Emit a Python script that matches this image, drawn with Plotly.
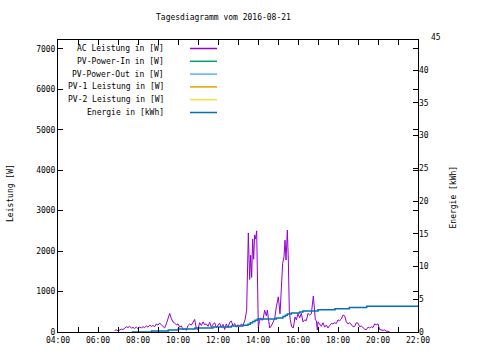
import plotly.graph_objects as go

DAY = "2016-08-21"

# AC Leistung [W]
ac_times = ["06:50","06:55","07:00","07:05","07:10","07:15","07:20","07:25","07:30","07:35","07:40","07:45",
            "07:50","07:55","08:00","08:05","08:10","08:15","08:20","08:25","08:30","08:35","08:40","08:45",
            "08:50","08:55","09:00","09:05","09:10","09:15","09:20","09:25","09:30","09:35","09:40","09:45",
            "09:50","09:55","10:00","10:05","10:10","10:15","10:20","10:25","10:30","10:35","10:40","10:45",
            "10:50","10:55","11:00","11:05","11:10","11:15","11:20","11:25","11:30","11:35","11:40","11:45",
            "11:50","11:55","12:00","12:05","12:10","12:15","12:20","12:25","12:30","12:35","12:40","12:45",
            "12:50","12:55","13:00","13:05","13:10","13:15","13:21","13:26","13:31","13:33","13:35","13:38",
            "13:41","13:44","13:47","13:50","13:53","13:56","13:58","14:01","14:04","14:07","14:10","14:15",
            "14:20","14:25","14:28","14:32","14:35","14:40","14:45","14:50","14:55","15:01","15:06","15:11",
            "15:14","15:18","15:21","15:24","15:28","15:31","15:34","15:37","15:41","15:46","15:51","15:55",
            "16:00","16:05","16:10","16:15","16:20","16:25","16:30","16:35","16:40","16:46","16:49","16:52",
            "16:55","16:58","17:00","17:05","17:10","17:15","17:20","17:25","17:30","17:35","17:40","17:45",
            "17:50","17:55","18:00","18:05","18:10","18:15","18:20","18:25","18:30","18:35","18:40","18:45",
            "18:50","18:55","19:00","19:05","19:10","19:15","19:20","19:25","19:30","19:35","19:40","19:45",
            "19:50","19:55","20:00","20:05","20:10","20:15","20:20","20:25","20:30","20:35"]
ac_power = [40,50,30,60,70,60,100,130,110,140,100,110,
            90,120,80,120,100,130,110,150,120,170,140,160,
            130,200,170,220,180,150,100,200,320,460,330,250,
            220,180,200,120,150,60,80,40,160,200,170,250,
            310,80,60,230,160,250,180,200,140,240,120,190,
            230,110,160,220,120,190,60,200,110,240,270,150,
            210,120,180,130,200,160,300,540,2450,1950,1300,1900,
            1350,2300,1800,2400,2300,2500,1500,100,250,350,300,300,
            540,400,540,200,100,150,250,330,620,870,450,1530,
            1700,1860,2270,1780,2520,1780,500,300,130,100,370,300,
            450,350,460,250,300,280,460,420,450,890,500,300,
            280,50,250,200,140,230,120,170,100,160,210,200,
            230,210,300,280,320,420,400,250,200,230,180,130,
            140,230,220,130,150,100,70,60,120,100,130,110,
            200,180,200,60,50,40,50,20,20,0]

# Energie [kWh] (step curve, right axis)
en_times = ["07:41","08:41","09:31","10:01","10:51","11:45","12:40","13:15","13:30","13:37","13:44","13:51",
            "13:58","14:55","15:15","15:22","15:28","15:40","16:05","16:15","17:00","17:51","18:34","19:26","22:00"]
en_kwh = [0.0,0.15,0.3,0.45,0.6,0.75,0.9,1.05,1.2,1.4,1.6,1.8,
          2.0,2.15,2.35,2.55,2.75,2.9,3.05,3.2,3.4,3.55,3.75,3.95,3.95]

# series without visible data
pv_in_times, pv_in = [], []
pv_out_times, pv_out = [], []
pv1_times, pv1 = [], []
pv2_times, pv2 = [], []

series_names = ["AC Leistung in [W]", "PV-Power-In in [W]", "PV-Power-Out in [W]",
                "PV-1 Leistung in [W]", "PV-2 Leistung in [W]", "Energie in [kWh]"]
series_colors = ["#9400d3", "#009e73", "#56b4e9", "#e69f00", "#f0e442", "#0072b2"]

left_ticks = [0, 1000, 2000, 3000, 4000, 5000, 6000, 7000]
right_ticks = [0, 5, 10, 15, 20, 25, 30, 35, 40]

def ts(lst):
    return [f"{DAY} {t}:00" for t in lst]

FONT = "DejaVu Sans Mono"
fig = go.Figure()
fig.add_trace(go.Scatter(x=ts(ac_times), y=ac_power, mode="lines",
                         line=dict(color=series_colors[0], width=1), showlegend=False))
for tl, vl, c in [(pv_in_times, pv_in, series_colors[1]), (pv_out_times, pv_out, series_colors[2]),
                  (pv1_times, pv1, series_colors[3]), (pv2_times, pv2, series_colors[4])]:
    fig.add_trace(go.Scatter(x=ts(tl), y=vl, mode="lines", line=dict(color=c, width=1), showlegend=False))
fig.add_trace(go.Scatter(x=ts(en_times), y=en_kwh, mode="lines", yaxis="y2",
                         line=dict(color=series_colors[5], width=1.5, shape="hv"), showlegend=False))

L, R, T, B = 58, 418, 40, 332
W, H = R - L, B - T
def px(x): return (x - L) / W
def py(y): return (B - y) / H

ann = []
shapes = []
for i, (n, c) in enumerate(zip(series_names, series_colors)):
    yy = 48.5 + 12.8 * i
    ann.append(dict(x=px(166), y=py(yy), xref="paper", yref="paper", text=n, showarrow=False,
                    xanchor="right", yanchor="middle", font=dict(family=FONT, size=8, color="black")))
    shapes.append(dict(type="line", xref="paper", yref="paper", x0=px(190), x1=px(217),
                       y0=py(yy), y1=py(yy), line=dict(color=c, width=1.5)))
ann.append(dict(x=px(223.5), y=py(18), xref="paper", yref="paper", text="Tagesdiagramm vom 2016-08-21",
                showarrow=False, xanchor="center", yanchor="middle", font=dict(family=FONT, size=8, color="black")))
ann.append(dict(x=px(10), y=py(193), xref="paper", yref="paper", text="Leistung [W]", textangle=-90,
                showarrow=False, xanchor="center", yanchor="middle", font=dict(family=FONT, size=8, color="black")))
ann.append(dict(x=px(452.5), y=py(197), xref="paper", yref="paper", text="Energie [kWh]", textangle=-90,
                showarrow=False, xanchor="center", yanchor="middle", font=dict(family=FONT, size=8, color="black")))
ann.append(dict(x=px(429), y=45 / 44.6, xref="paper", yref="paper", text="45",
                showarrow=False, xanchor="left", yanchor="middle", font=dict(family=FONT, size=8, color="black")))

fig.update_layout(
    width=480, height=360,
    margin=dict(l=L, r=480 - R, t=T, b=360 - B),
    paper_bgcolor="white", plot_bgcolor="white",
    font=dict(family=FONT, size=8, color="black"),
    xaxis=dict(type="date", range=[f"{DAY} 04:00:00", f"{DAY} 22:00:00"],
               tickformat="%H:%M", dtick=2 * 3600 * 1000, tick0=f"{DAY} 04:00:00",
               ticks="inside", ticklen=5, tickcolor="black", showline=True, linecolor="black",
               linewidth=1, mirror="allticks", showgrid=False, zeroline=False,
               minor=dict(dtick=3600 * 1000, ticks="inside", ticklen=3, tickcolor="black", showgrid=False),
               tickfont=dict(family=FONT, size=8, color="black")),
    yaxis=dict(range=[0, 7220], tickvals=left_ticks, ticks="inside", ticklen=5, tickcolor="black",
               showline=True, linecolor="black", linewidth=1, mirror="allticks", showgrid=False,
               zeroline=False, tickfont=dict(family=FONT, size=8, color="black")),
    yaxis2=dict(range=[0, 44.6], tickvals=right_ticks, overlaying="y", side="right", ticks="inside",
                ticklen=5, tickcolor="black", showline=False, showgrid=False, zeroline=False,
                tickfont=dict(family=FONT, size=8, color="black")),
    annotations=ann, shapes=shapes,
)
fig.write_html("out.html", config={"displayModeBar": False},
               post_script="document.body.style.margin='0';document.body.style.padding='0';")
